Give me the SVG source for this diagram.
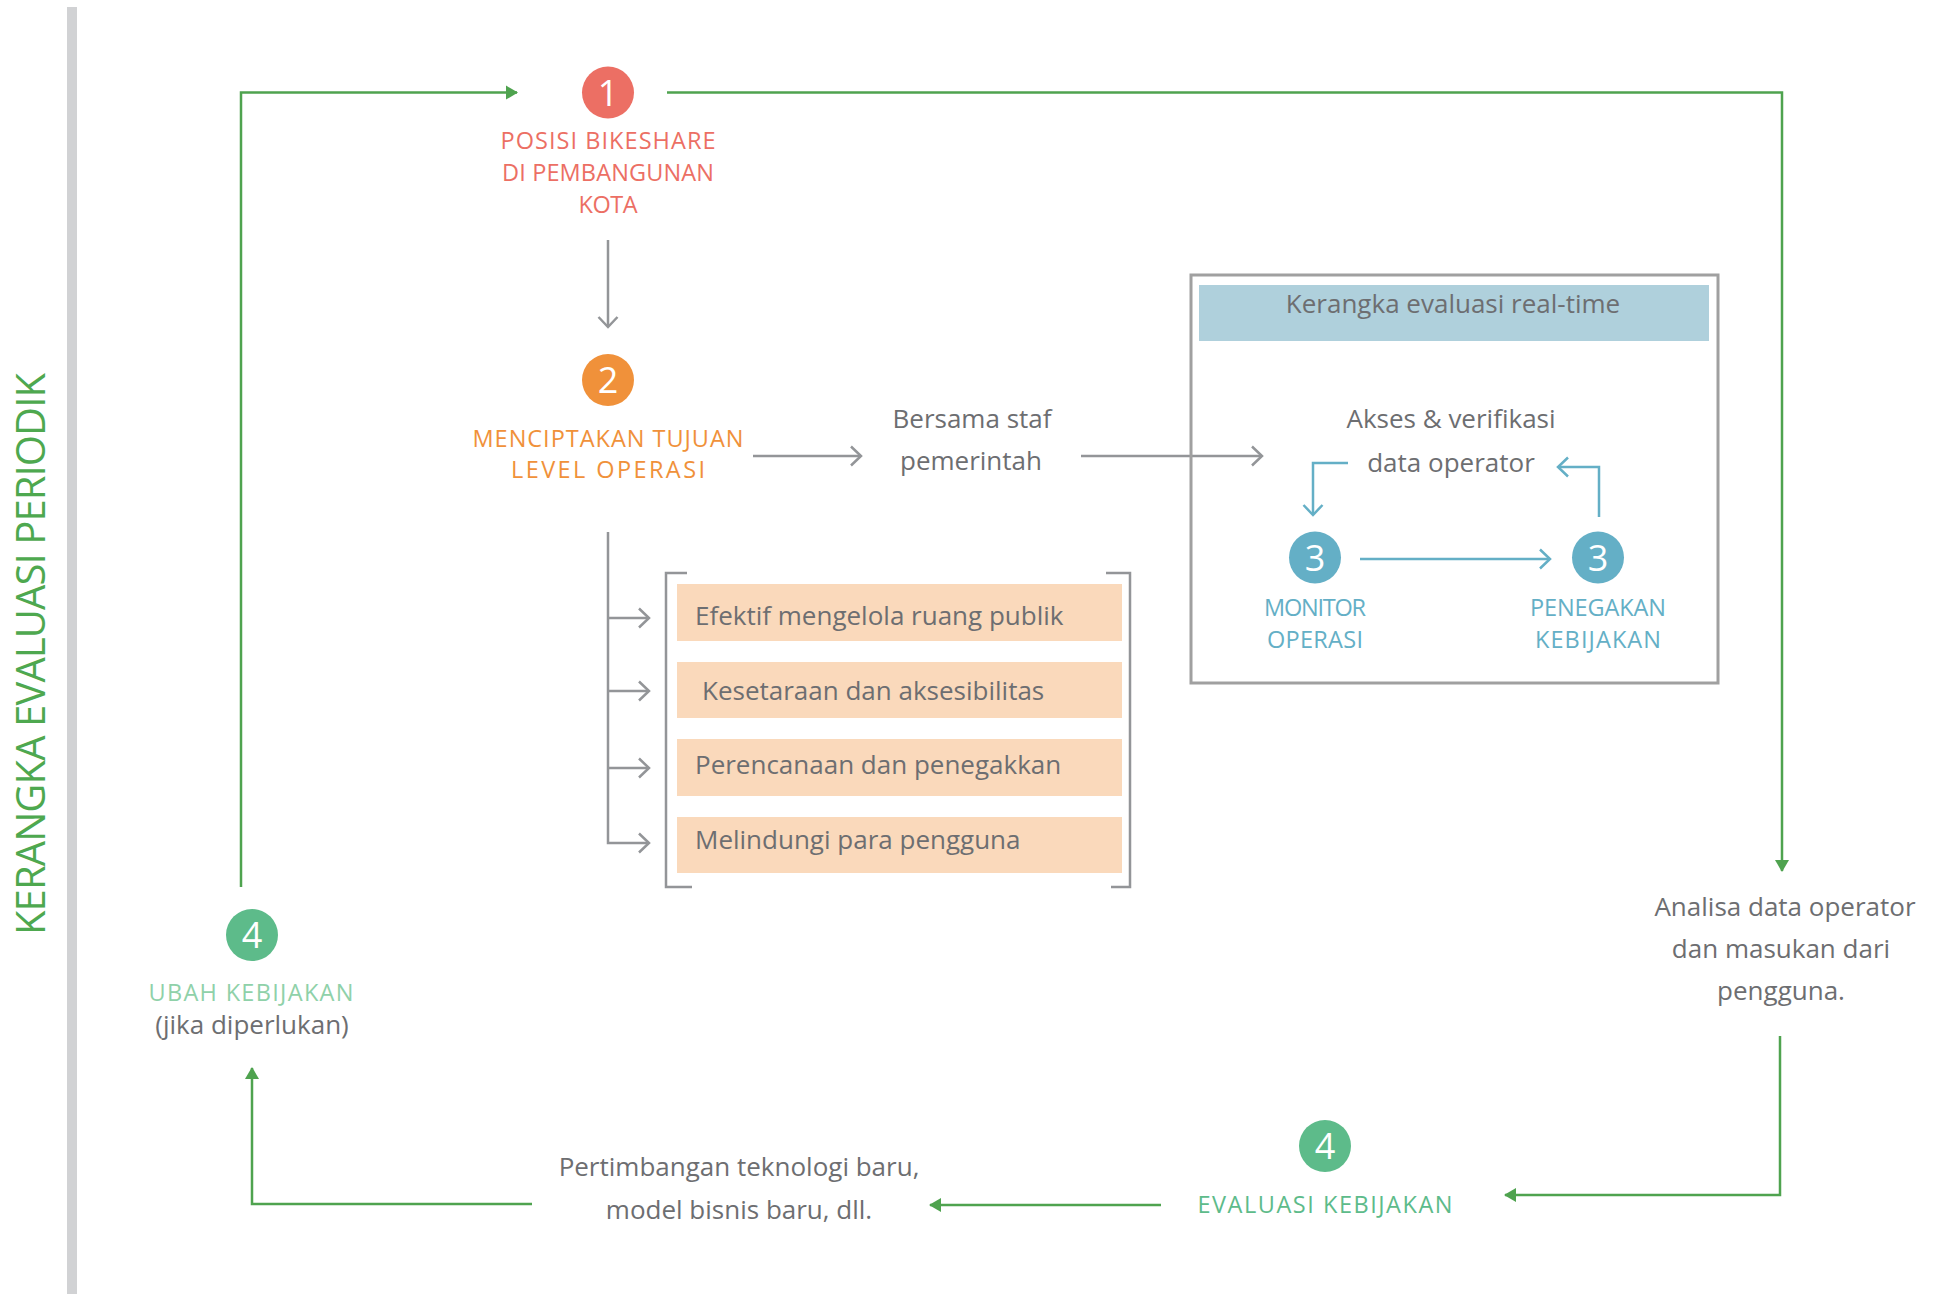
<svg xmlns="http://www.w3.org/2000/svg" width="1936" height="1294" viewBox="0 0 1936 1294">
<style>
text{font-family:"Open Sans","Liberation Sans",sans-serif;}
.body{font-size:26px;fill:#6d6e71;}
.cap{font-size:23.5px;}
.num{font-size:36px;fill:#ffffff;text-anchor:middle;}
.mid{text-anchor:middle;}
.gl{fill:none;stroke:#4fa34f;stroke-width:2.5;}
.gr{fill:none;stroke:#939598;stroke-width:2.5;}
.bl{fill:none;stroke:#64afc6;stroke-width:2.5;}
.peach{fill:#fad9bb;}
</style>
<defs>
<marker id="chevG" viewBox="0 0 14 22" refX="12" refY="11" markerWidth="14" markerHeight="22" orient="auto" markerUnits="userSpaceOnUse">
<path d="M2,1.5 L12,11 L2,20.5" fill="none" stroke="#939598" stroke-width="2.5"/>
</marker>
<marker id="chevB" viewBox="0 0 14 22" refX="12" refY="11" markerWidth="14" markerHeight="22" orient="auto" markerUnits="userSpaceOnUse">
<path d="M2,1.5 L12,11 L2,20.5" fill="none" stroke="#64afc6" stroke-width="2.5"/>
</marker>
<marker id="triG" viewBox="0 0 12 16" refX="11" refY="8" markerWidth="12" markerHeight="16" orient="auto" markerUnits="userSpaceOnUse">
<path d="M0,1 L12,8 L0,15 Z" fill="#4fa34f"/>
</marker>
</defs>

<rect x="67" y="7" width="10" height="1287" fill="#d1d2d4"/>
<g id="title">
<text transform="translate(45,654) rotate(-90)" class="mid" font-size="40" fill="#4ea84f" textLength="562" lengthAdjust="spacing">KERANGKA EVALUASI PERIODIK</text>
</g>

<g id="connectors">
<path class="gl" d="M241,887 L241,92.6 L517,92.6" marker-end="url(#triG)"/>
<path class="gl" d="M667,92.6 L1782,92.6 L1782,871" marker-end="url(#triG)"/>
<path class="gl" d="M1780,1036 L1780,1195 L1505,1195" marker-end="url(#triG)"/>
<path class="gl" d="M1161,1205 L930,1205" marker-end="url(#triG)"/>
<path class="gl" d="M532,1204 L252,1204 L252,1068" marker-end="url(#triG)"/>
<path class="gr" d="M608,240 L608,327" marker-end="url(#chevG)"/>
<path class="gr" d="M753,456 L861,456" marker-end="url(#chevG)"/>
<path class="gr" d="M1081,456 L1262,456" marker-end="url(#chevG)"/>
<path class="gr" d="M608,532 L608,843 L649,843" marker-end="url(#chevG)"/>
<path class="gr" d="M608,618 L649,618" marker-end="url(#chevG)"/>
<path class="gr" d="M608,691 L649,691" marker-end="url(#chevG)"/>
<path class="gr" d="M608,768 L649,768" marker-end="url(#chevG)"/>
<path class="bl" d="M1348,463 L1313,463 L1313,515" marker-end="url(#chevB)"/>
<path class="bl" d="M1599,517 L1599,467 L1558,467" marker-end="url(#chevB)"/>
<path class="bl" d="M1360,559 L1550,559" marker-end="url(#chevB)"/>
</g>

<g id="n1">
<circle cx="608" cy="92.6" r="26" fill="#ec6f64"/>
<text class="num" x="608" y="105.5">1</text>
<text class="cap mid" fill="#ec6f64" x="608" y="149" textLength="215">POSISI BIKESHARE</text>
<text class="cap mid" fill="#ec6f64" x="608" y="181" textLength="212">DI PEMBANGUNAN</text>
<text class="cap mid" fill="#ec6f64" x="608" y="213" textLength="59">KOTA</text>
</g>

<g id="n2">
<circle cx="608" cy="380" r="26" fill="#f0913a"/>
<text class="num" x="608" y="393">2</text>
<text class="cap mid" fill="#f0913a" x="608" y="447" textLength="271">MENCIPTAKAN TUJUAN</text>
<text class="cap mid" fill="#f0913a" x="608" y="478" textLength="194">LEVEL OPERASI</text>
</g>

<g id="bersama">
<text class="body mid" x="972" y="428">Bersama staf</text>
<text class="body mid" x="971" y="470">pemerintah</text>
</g>

<g id="goals">
<path class="gr" stroke-width="3" d="M687,573 L666,573 L666,887 L692,887"/>
<path class="gr" stroke-width="3" d="M1106,573 L1130,573 L1130,887 L1111,887"/>
<g id="goal1"><rect class="peach" x="677" y="584" width="445" height="57"/><text class="body" x="695" y="625">Efektif mengelola ruang publik</text></g>
<g id="goal2"><rect class="peach" x="677" y="662" width="445" height="56"/><text class="body" x="702" y="700">Kesetaraan dan aksesibilitas</text></g>
<g id="goal3"><rect class="peach" x="677" y="739" width="445" height="57"/><text class="body" x="695" y="774">Perencanaan dan penegakkan</text></g>
<g id="goal4"><rect class="peach" x="677" y="817" width="445" height="56"/><text class="body" x="695" y="849">Melindungi para pengguna</text></g>
</g>

<g id="realtime">
<rect x="1191" y="275" width="527" height="408" fill="none" stroke="#a0a0a0" stroke-width="3"/>
<rect x="1199" y="285" width="510" height="56" fill="#afd0dc"/>
<text class="body mid" x="1453" y="313">Kerangka evaluasi real-time</text>
</g>

<g id="akses">
<text class="body mid" x="1451" y="428">Akses &amp; verifikasi</text>
<text class="body mid" x="1451" y="472">data operator</text>
</g>

<g id="monitor">
<circle cx="1315" cy="557.5" r="26" fill="#64afc6"/>
<text class="num" x="1315" y="570.5">3</text>
<text class="cap mid" fill="#64afc6" x="1315" y="616" textLength="102">MONITOR</text>
<text class="cap mid" fill="#64afc6" x="1315" y="648" textLength="96">OPERASI</text>
</g>

<g id="penegakan">
<circle cx="1598" cy="557.5" r="26" fill="#64afc6"/>
<text class="num" x="1598" y="570.5">3</text>
<text class="cap mid" fill="#64afc6" x="1598" y="616" textLength="136">PENEGAKAN</text>
<text class="cap mid" fill="#64afc6" x="1598" y="648" textLength="126">KEBIJAKAN</text>
</g>

<g id="analisa">
<text class="body mid" x="1785" y="916">Analisa data operator</text>
<text class="body mid" x="1781" y="958">dan masukan dari</text>
<text class="body mid" x="1781" y="1000">pengguna.</text>
</g>

<g id="evaluasi">
<circle cx="1325" cy="1146" r="26" fill="#5dbb8a"/>
<text class="num" x="1325" y="1159">4</text>
<text class="cap mid" fill="#5dbb8a" x="1325" y="1213" textLength="255">EVALUASI KEBIJAKAN</text>
</g>

<g id="pertimbangan">
<text class="body mid" x="739" y="1176">Pertimbangan teknologi baru,</text>
<text class="body mid" x="739" y="1219">model bisnis baru, dll.</text>
</g>

<g id="ubah">
<circle cx="252" cy="935" r="26" fill="#5dbb8a"/>
<text class="num" x="252" y="948">4</text>
<text class="cap mid" fill="#8fd1a9" x="251" y="1001" textLength="205">UBAH KEBIJAKAN</text>
<text class="body mid" x="252" y="1034">(jika diperlukan)</text>
</g>
</svg>
